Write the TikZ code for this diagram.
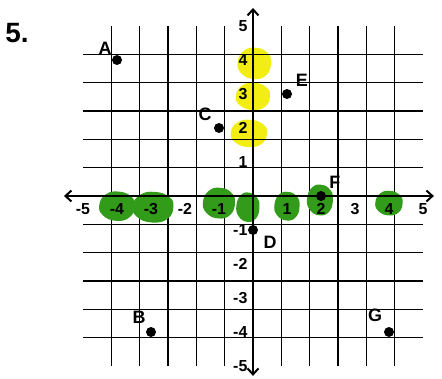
\documentclass[tikz,border=0pt]{standalone}
\usepackage{fontspec}
\setmainfont{Liberation Sans}
\usetikzlibrary{arrows.meta}
\definecolor{hlyellow}{RGB}{242,238,20}
\definecolor{mkgreen}{RGB}{50,155,25}
\newcommand\myblob[4]{%
  \fill[#4, shift={(#1)}, xscale=#2, yscale=#3]
    plot[smooth cycle, tension=0.8] coordinates
    {(1,0.05) (0.78,0.68) (0.1,1) (-0.62,0.82) (-1,0.1) (-0.8,-0.62) (-0.05,-1) (0.72,-0.75)};}
\tikzset{
  gridline/.style={black, line width=1.5bp},
  axisline/.style={black, line width=2bp, {Straight Barb[length=6bp,width=11bp]}-{Straight Barb[length=6bp,width=11bp]}},
  dot/.style={circle, fill=black, inner sep=0pt, minimum size=10bp},
  lbl/.style={font=\fontsize{18}{18}\selectfont\bfseries, inner sep=0pt},
  tick/.style={font=\fontsize{16}{16}\selectfont\bfseries, inner sep=0pt},
  title/.style={font=\fontsize{28}{28}\selectfont\bfseries, inner sep=0pt}
}
\begin{document}
\begin{tikzpicture}[x=1bp,y=1bp]
\useasboundingbox (0,0) rectangle (442,378);
\fill[white] (0,0) rectangle (442,378);
\node[title] (t5) at (17,345) {5.};
\begin{scope}[shift={(253,182)}, x=34bp, y=34bp]
  % highlighter
  \myblob{0.04,3.9}{0.49}{0.46}{hlyellow}
  \myblob{0,2.93}{0.5}{0.4}{hlyellow}
  \myblob{-0.12,1.84}{0.53}{0.4}{hlyellow}
  % grid
  \draw[gridline] (-5,-5) grid (5,5);
  % green marker
  \myblob{-4,-0.3}{0.52}{0.43}{mkgreen}
  \myblob{-2.94,-0.33}{0.6}{0.45}{mkgreen}
  \myblob{-1,-0.21}{0.47}{0.45}{mkgreen}
  \myblob{-0.15,-0.33}{0.34}{0.43}{mkgreen}
  \myblob{1.0,-0.3}{0.37}{0.42}{mkgreen}
  \myblob{1.97,-0.12}{0.38}{0.45}{mkgreen}
  \myblob{4.0,-0.21}{0.4}{0.36}{mkgreen}
  % axes
  \coordinate (xl) at (-5.56,0);
  \coordinate (xr) at (5.32,0);
  \coordinate (yb) at (0,-5.29);
  \coordinate (yt) at (0,5.53);
  \draw[axisline] (xl) -- (xr);
  \draw[axisline] (yb) -- (yt);
  % tick labels
  \foreach \i in {-5,-4,-3,-2,-1,1,2,3,4,5} {
    \node[tick] (x\i) at (\i,-0.38) {\i};
    \node[tick, anchor=east] (y\i) at (-0.16,\i) {\i};
  }
  % points
  \node[dot] (A) at (-4,4) {};
  \node[dot] (C) at (-1,2) {};
  \node[dot] (E) at (1,3) {};
  \node[dot] (F) at (2,0) {};
  \node[dot] (D) at (0,-1) {};
  \node[dot] (B) at (-3,-4) {};
  \node[dot] (G) at (4,-4) {};
  \node[lbl] (lA) at (-4.35,4.35) {A};
  \node[lbl] (lC) at (-1.41,2.41) {C};
  \node[lbl] (lE) at (1.44,3.41) {E};
  \node[lbl] (lF) at (2.41,0.41) {F};
  \node[lbl] (lD) at (0.5,-1.35) {D};
  \node[lbl] (lB) at (-3.35,-3.56) {B};
  \node[lbl] (lG) at (3.59,-3.5) {G};
\end{scope}
\end{tikzpicture}
\end{document}
